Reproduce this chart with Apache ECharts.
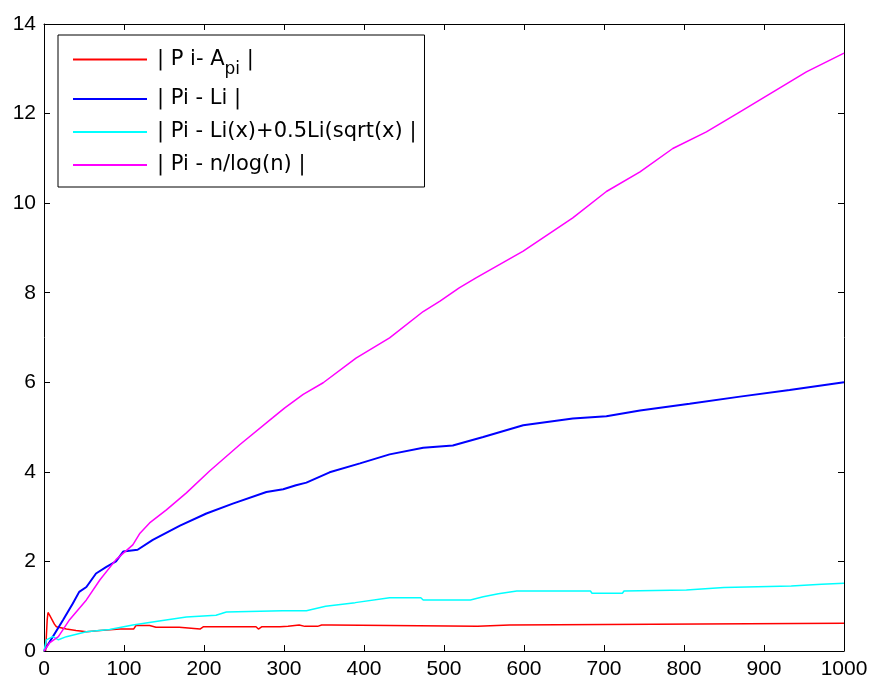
<!DOCTYPE html>
<html>
<head>
<meta charset="utf-8">
<script src="https://cdn.jsdelivr.net/npm/echarts@6/dist/echarts.min.js"></script>
<style>
  html, body { margin: 0; padding: 0; background: #fff; }
  #chart { width: 870px; height: 682px; }
</style>
</head>
<body>
<div id="chart"></div>
<script>
// nombres de las series (leyenda)
var seriesNames = ['| P i- A_pi |', '| Pi - Li |', '| Pi - Li(x)+0.5Li(sqrt(x) |', '| Pi - n/log(n) |'];
var seriesColors = ['#ff0000', '#0000ff', '#00ffff', '#ff00ff'];

// eje x / eje y
var xTicks = [0, 100, 200, 300, 400, 500, 600, 700, 800, 900, 1000];
var yTicks = [0, 2, 4, 6, 8, 10, 12, 14];

// | P i - A_pi |
var errApi = [
    [2, 0.0], [3.8, 0.0], [4, 0.7], [5, 0.86], [7, 0.8], [10, 0.7], [13, 0.6], [15.5, 0.54],
    [28, 0.49], [40, 0.46], [53, 0.43], [70, 0.46], [95, 0.49], [112, 0.49], [115, 0.57],
    [132, 0.57], [140, 0.53], [169, 0.53], [171, 0.49], [195, 0.49], [199, 0.54], [265, 0.54],
    [268, 0.49], [272, 0.54], [295, 0.54], [297, 0.58], [305, 0.55], [319, 0.58], [326, 0.55],
    [342, 0.55], [347, 0.58], [359, 0.58], [361, 0.55], [542, 0.55], [544, 0.58], [582, 0.58],
    [583, 0.62], [1000, 0.62]
];

// | Pi - Li |
var errLi = [
    [0, 0], [11, 0.32], [24, 0.7], [36, 1.06], [44, 1.32], [53, 1.43], [65, 1.73], [78, 1.88],
    [90, 2.0], [99, 2.22], [117, 2.26], [136, 2.48], [170, 2.8], [203, 3.07], [236, 3.29],
    [278, 3.55], [299, 3.61], [315, 3.7], [328, 3.76], [357, 3.99], [395, 4.19], [432, 4.39],
    [474, 4.54], [511, 4.59], [549, 4.78], [599, 5.04], [661, 5.19], [703, 5.24], [745, 5.37],
    [807, 5.52], [870, 5.68], [932, 5.83], [1000, 6.0]
];

// | Pi - Li(x)+0.5Li(sqrt(x)) |
var errRiemann = [
    [0, 0], [3, 0.25], [11, 0.32], [18, 0.25], [28, 0.32], [53, 0.43], [82, 0.48], [111, 0.58],
    [144, 0.67], [178, 0.76], [215, 0.8], [228, 0.87], [298, 0.9], [328, 0.9], [352, 1.0],
    [389, 1.08], [432, 1.19], [471, 1.19], [474, 1.14], [533, 1.14], [549, 1.21], [568, 1.28],
    [591, 1.34], [683, 1.34], [685, 1.29], [723, 1.29], [725, 1.34], [803, 1.36], [850, 1.42],
    [934, 1.45], [972, 1.49], [1000, 1.51]
];

// | Pi - n/log(n) |
var errNlog = [
    [0, 0], [7, 0.18], [18, 0.32], [32, 0.7], [53, 1.14], [70, 1.59], [90, 2.04], [111, 2.37],
    [120, 2.63], [132, 2.86], [153, 3.15], [178, 3.53], [207, 4.02], [245, 4.61], [286, 5.21],
    [301, 5.43], [324, 5.73], [349, 5.99], [390, 6.54], [432, 6.99], [474, 7.58], [495, 7.81],
    [519, 8.11], [540, 8.33], [599, 8.93], [661, 9.67], [703, 10.26], [745, 10.7], [786, 11.22],
    [828, 11.59], [870, 12.04], [911, 12.48], [953, 12.93], [1000, 13.35]
];

var allData = [errApi, errLi, errRiemann, errNlog];

var chart = echarts.init(document.getElementById('chart'));

var fuente = 'Liberation Sans, Arial, sans-serif';
var fuenteLeyenda = 'DejaVu Sans, sans-serif';

function ejeX(pos, labels) {
    return {
        type: 'value', position: pos, min: xTicks[0], max: xTicks[xTicks.length - 1], interval: 100,
        axisLine: { show: true, onZero: false, lineStyle: { color: '#000', width: 1 } },
        axisTick: { show: true, inside: true, length: 6, lineStyle: { color: '#000' } },
        axisLabel: {
            show: labels, color: '#000', fontSize: 21, fontFamily: fuente, margin: 8,
            formatter: function (v) { return String(v); }
        },
        splitLine: { show: false }
    };
}

function ejeY(pos, labels) {
    return {
        type: 'value', position: pos, min: yTicks[0], max: yTicks[yTicks.length - 1], interval: 2,
        axisLine: { show: true, onZero: false, lineStyle: { color: '#000', width: 1 } },
        axisTick: { show: true, inside: true, length: 6, lineStyle: { color: '#000' } },
        axisLabel: { show: labels, color: '#000', fontSize: 21, fontFamily: fuente, margin: 8 },
        splitLine: { show: false }
    };
}

var option = {
    backgroundColor: '#fff',
    animation: false,
    grid: { left: 44, right: 26, top: 24, bottom: 31, outerBoundsMode: 'none' },
    xAxis: [ejeX('bottom', true), ejeX('top', false)],
    yAxis: [ejeY('left', true), ejeY('right', false)],
    legend: {
        orient: 'vertical', left: 58, top: 35,
        padding: [6, 8, 10, 15],
        borderColor: '#000', borderWidth: 1, backgroundColor: '#fff',
        icon: 'rect', itemWidth: 74, itemHeight: 2, itemGap: 9,
        data: seriesNames,
        formatter: function (name) {
            if (name === seriesNames[0]) {
                return '{n|| P i- A}{s|pi}{n| |}';
            }
            return '{n|' + name + '}';
        },
        textStyle: {
            color: '#000', fontFamily: fuenteLeyenda, fontSize: 21, lineHeight: 24, padding: [0, 0, 0, 5],
            rich: {
                n: { fontSize: 21, lineHeight: 24, color: '#000', fontFamily: fuenteLeyenda },
                s: { fontSize: 17, lineHeight: 17, padding: [20, 0, 0, 0], color: '#000', fontFamily: fuenteLeyenda }
            }
        }
    },
    series: allData.map(function (d, i) {
        return {
            name: seriesNames[i],
            type: 'line',
            data: d,
            showSymbol: false,
            color: seriesColors[i],
            lineStyle: { color: seriesColors[i], width: i === 1 ? 2 : 1.5 }
        };
    })
};

chart.setOption(option);
</script>
</body>
</html>
